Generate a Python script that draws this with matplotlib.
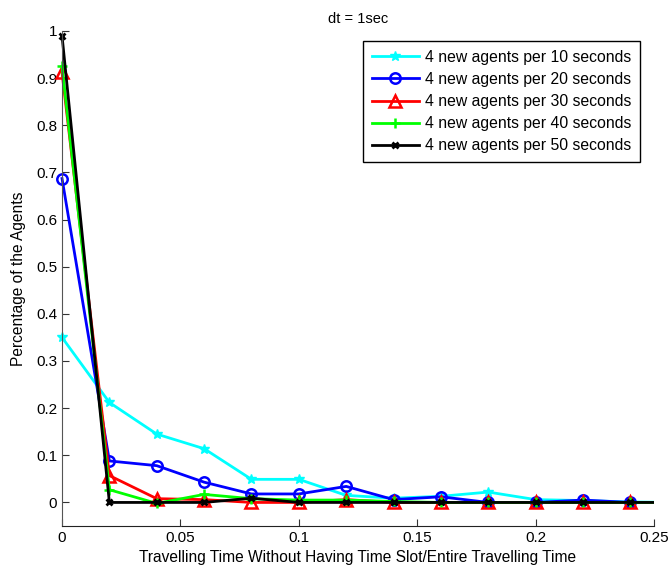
import matplotlib
matplotlib.use("Agg")
import matplotlib.pyplot as plt
from matplotlib.transforms import Bbox, TransformedBbox

plt.rcParams["font.family"] = ["Liberation Sans", "DejaVu Sans"]

x = [0, 0.02, 0.04, 0.06, 0.08, 0.10, 0.12, 0.14, 0.16, 0.18, 0.20, 0.22, 0.24, 0.26]
y10 = [0.35, 0.212, 0.145, 0.114, 0.049, 0.049, 0.015, 0.009, 0.013, 0.022, 0.006, 0.004, 0.001, 0]
y20 = [0.687, 0.088, 0.078, 0.043, 0.018, 0.018, 0.034, 0.006, 0.012, 0, 0, 0.005, 0, 0]
y30 = [0.912, 0.057, 0.008, 0.006, 0, 0, 0.006, 0, 0, 0, 0, 0, 0, 0]
y40 = [0.925, 0.027, -0.002, 0.017, 0.008, 0.005, 0.005, 0.002, 0, 0, 0, 0, 0, 0]
y50 = [0.99, 0, 0, 0, 0.009, 0, 0, 0, 0, 0, 0, 0, 0, 0]
labels = ["4 new agents per 10 seconds", "4 new agents per 20 seconds",
          "4 new agents per 30 seconds", "4 new agents per 40 seconds",
          "4 new agents per 50 seconds"]

fig = plt.figure(figsize=(6.69, 5.73), dpi=100)
ax = fig.add_axes([0.0927, 0.082, 0.885, 0.864])

lines = []
lines += ax.plot(x, y10, color="cyan", marker="*", ms=7, lw=2, label=labels[0])
lines += ax.plot(x, y20, color="blue", marker="o", ms=7.5, mfc="none", mew=1.8, lw=2, label=labels[1])
lines += ax.plot(x, y30, color="red", marker="^", ms=8, mfc="none", mew=1.8, lw=2, label=labels[2])
lines += ax.plot(x, y40, color="lime", marker="+", ms=7, mew=1.8, lw=2, label=labels[3])
lines += ax.plot(x, y50, color="black", marker="x", ms=4, mew=2, lw=2, label=labels[4])

ax.set_xlim(0, 0.25)
ax.set_ylim(-0.05, 1)

# let markers at x=0 show fully, but still cut the lines at the right edge
clip = TransformedBbox(Bbox([[-0.02, -0.1], [0.25, 1.1]]), ax.transData)
for ln in lines:
    ln.set_clip_box(clip)

ax.set_xticks([0, 0.05, 0.1, 0.15, 0.2, 0.25])
ax.set_xticklabels(["0", "0.05", "0.1", "0.15", "0.2", "0.25"])
ax.set_yticks([0, 0.1, 0.2, 0.3, 0.4, 0.5, 0.6, 0.7, 0.8, 0.9, 1])
ax.set_yticklabels(["0", "0.1", "0.2", "0.3", "0.4", "0.5", "0.6", "0.7", "0.8", "0.9", "1"])
ax.tick_params(direction="in", labelsize=11, length=5, color="#333333")
ax.spines["top"].set_visible(False)
ax.spines["right"].set_visible(False)
ax.spines["left"].set_color("#555555")
ax.spines["bottom"].set_color("#222222")

ax.set_title("dt = 1sec", fontsize=10.5)
ax.set_xlabel("Travelling Time Without Having Time Slot/Entire Travelling Time", fontsize=11.2, labelpad=4)
ax.set_ylabel("Percentage of the Agents", fontsize=11.2, labelpad=7)

leg = ax.legend(loc="upper right", bbox_to_anchor=(0.99, 0.995), fontsize=11.3,
                fancybox=False, edgecolor="black", framealpha=1, handlelength=3.0,
                handletextpad=0.4, labelspacing=0.45, borderpad=0.55)
leg.get_frame().set_linewidth(1)

fig.savefig("out.png", dpi=100)
